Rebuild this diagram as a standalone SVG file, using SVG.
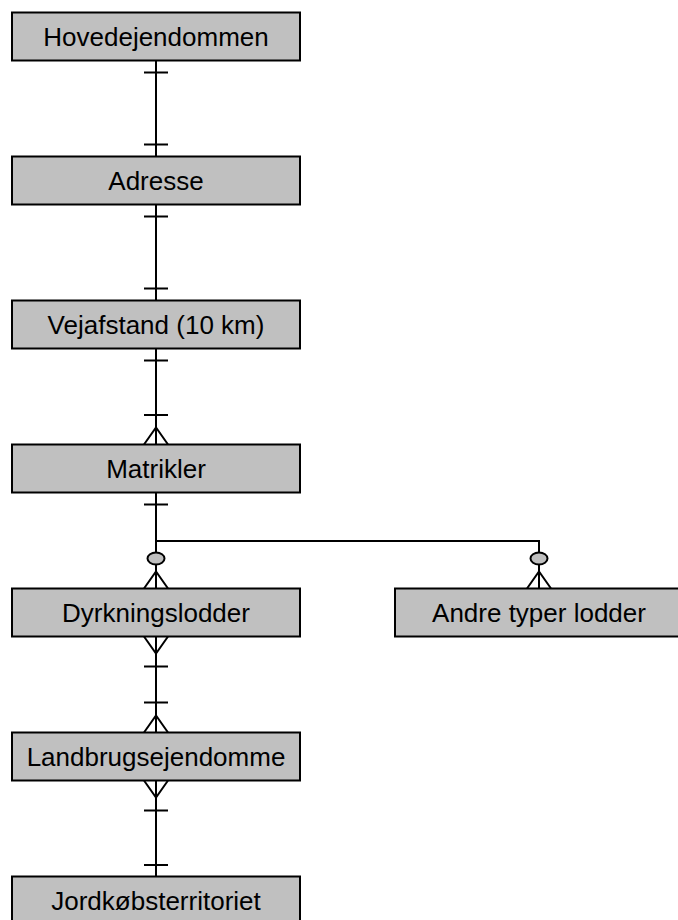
<svg xmlns="http://www.w3.org/2000/svg" width="678" height="920" viewBox="0 0 678 920">
<style>
.box{fill:#c0c0c0;stroke:#000;stroke-width:2}
.lbl{font-family:"Liberation Sans",Arial,sans-serif;font-size:26px;fill:#000;text-anchor:middle}
.ln{stroke:#000;stroke-width:2;fill:none}
.opt{fill:#c0c0c0;stroke:#000;stroke-width:2}
</style>
<rect width="678" height="920" fill="#fff"/>
<g id="connectors">
<!-- Hovedejendommen - Adresse -->
<path class="ln" d="M156 60.5V156.5M144 72.5H168M144 144.5H168"/>
<!-- Adresse - Vejafstand -->
<path class="ln" d="M156 204.5V300.5M144 216.5H168M144 288.5H168"/>
<!-- Vejafstand - Matrikler -->
<path class="ln" d="M156 348.5V444.5M144 360.5H168M144 415H168M144 444.5L156 427.5L168 444.5"/>
<!-- Matrikler - Dyrkningslodder / Andre typer lodder -->
<path class="ln" d="M156 492.5V588.5M144 504.5H168M156 541H539V588.5M144 588.5L156 571.5L168 588.5M527 588.5L539 571.5L551 588.5"/>
<ellipse class="opt" cx="156" cy="558.5" rx="8.5" ry="6"/>
<ellipse class="opt" cx="539" cy="558.5" rx="8.5" ry="6"/>
<!-- Dyrkningslodder - Landbrugsejendomme -->
<path class="ln" d="M156 636.5V732.5M144 636.5L156 653.5L168 636.5M144 666.5H168M144 702.5H168M144 732.5L156 715.5L168 732.5"/>
<!-- Landbrugsejendomme - Jordkøbsterritoriet -->
<path class="ln" d="M156 780.5V876.5M144 780.5L156 797.5L168 780.5M144 810.5H168M144 865H168"/>
</g>
<g id="n1"><rect class="box" x="12" y="12.5" width="288" height="48"/><text class="lbl" x="156" y="45.5">Hovedejendommen</text></g>
<g id="n2"><rect class="box" x="12" y="156.5" width="288" height="48"/><text class="lbl" x="156" y="189.5">Adresse</text></g>
<g id="n3"><rect class="box" x="12" y="300.5" width="288" height="48"/><text class="lbl" x="156" y="333.5">Vejafstand (10 km)</text></g>
<g id="n4"><rect class="box" x="12" y="444.5" width="288" height="48"/><text class="lbl" x="156" y="477.5">Matrikler</text></g>
<g id="n5"><rect class="box" x="12" y="588.5" width="288" height="48"/><text class="lbl" x="156" y="621.5">Dyrkningslodder</text></g>
<g id="n6"><rect class="box" x="395" y="588.5" width="288" height="48"/><text class="lbl" x="539" y="621.5">Andre typer lodder</text></g>
<g id="n7"><rect class="box" x="12" y="732.5" width="288" height="48"/><text class="lbl" x="156" y="765.5">Landbrugsejendomme</text></g>
<g id="n8"><rect class="box" x="12" y="876.5" width="288" height="48"/><text class="lbl" x="156" y="909.5">Jordkøbsterritoriet</text></g>
</svg>
